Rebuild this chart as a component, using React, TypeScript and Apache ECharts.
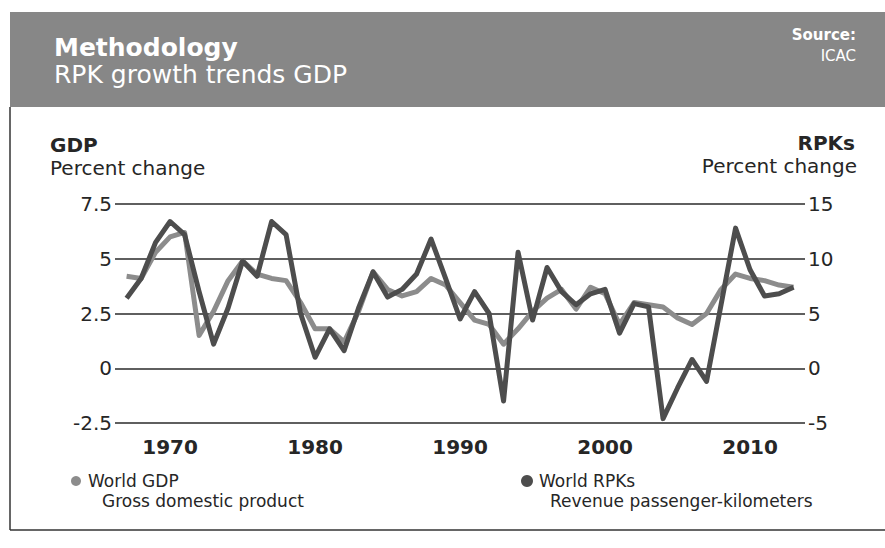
import React, { useEffect, useRef } from "react";
import * as echarts from "echarts";

const years = [
  1967, 1968, 1969, 1970, 1971, 1972, 1973, 1974, 1975, 1976, 1977, 1978,
  1979, 1980, 1981, 1982, 1983, 1984, 1985, 1986, 1987, 1988, 1989, 1990,
  1991, 1992, 1993, 1994, 1995, 1996, 1997, 1998, 1999, 2000, 2001, 2002,
  2003, 2004, 2005, 2006, 2007, 2008, 2009, 2010, 2011, 2012, 2013,
];

// World GDP, percent change (left axis)
const gdp = [
  4.2, 4.1, 5.3, 6.0, 6.2, 1.5, 2.6, 4.0, 4.9, 4.3, 4.1, 4.0,
  3.0, 1.8, 1.8, 1.2, 2.6, 4.4, 3.6, 3.3, 3.5, 4.1, 3.8, 3.0,
  2.2, 2.0, 1.1, 1.8, 2.6, 3.2, 3.6, 2.7, 3.7, 3.4, 2.0, 3.0,
  2.9, 2.8, 2.3, 2.0, 2.5, 3.6, 4.3, 4.1, 4.0, 3.8, 3.7,
];

// World RPKs, percent change (right axis)
const rpk = [
  6.4, 8.2, 11.5, 13.4, 12.2, 7.0, 2.2, 5.5, 9.8, 8.4, 13.4, 12.2,
  5.0, 1.0, 3.6, 1.6, 5.5, 8.8, 6.5, 7.2, 8.6, 11.8, 8.2, 4.5,
  7.0, 5.0, -3.0, 10.6, 4.4, 9.2, 7.0, 5.8, 6.8, 7.2, 3.2, 5.9,
  5.6, -4.6, -1.8, 0.8, -1.2, 5.8, 12.8, 9.0, 6.6, 6.8, 7.4,
];

const yearTicks = [1970, 1980, 1990, 2000, 2010];
const gdpTicks = [-2.5, 0, 2.5, 5, 7.5];
const rpkTicks = [-5, 0, 5, 10, 15];

const FONT = "'DejaVu Sans', sans-serif";
const TEXT = "#262626";

export default function App() {
  const ref = useRef<HTMLDivElement>(null);

  useEffect(() => {
    if (!ref.current) return;
    const chart = echarts.init(ref.current, null, { renderer: "svg" });

    const fmt = (v: number) => String(v);

    chart.setOption({
      animation: false,
      backgroundColor: "#ffffff",
      grid: { left: 115, right: 80, top: 204, bottom: 125 },
      xAxis: {
        type: "value",
        min: 1966.2,
        max: 2013.79,
        axisLine: { show: false },
        axisTick: { show: false },
        splitLine: { show: false },
        axisLabel: {
          customValues: yearTicks,
          margin: 14,
          color: TEXT,
          fontFamily: FONT,
          fontWeight: "bold",
          fontSize: 20,
          formatter: fmt,
        },
      },
      yAxis: [
        {
          type: "value",
          position: "left",
          min: gdpTicks[0],
          max: gdpTicks[gdpTicks.length - 1],
          interval: 2.5,
          axisLine: { show: false },
          axisTick: { show: false },
          splitLine: { show: true, lineStyle: { color: "#2a2a2a", width: 1.6 } },
          axisLabel: {
            margin: 3,
            color: TEXT,
            fontFamily: FONT,
            fontSize: 20,
            formatter: fmt,
          },
        },
        {
          type: "value",
          position: "right",
          min: rpkTicks[0],
          max: rpkTicks[rpkTicks.length - 1],
          interval: 5,
          axisLine: { show: false },
          axisTick: { show: false },
          splitLine: { show: false },
          axisLabel: {
            margin: 3,
            color: TEXT,
            fontFamily: FONT,
            fontSize: 20,
            formatter: fmt,
          },
        },
      ],
      series: [
        {
          name: "World GDP",
          type: "line",
          yAxisIndex: 0,
          data: years.map((y, i) => [y, gdp[i]]),
          showSymbol: false,
          lineStyle: { color: "#8c8c8c", width: 5, join: "round" },
          z: 3,
        },
        {
          name: "World RPKs",
          type: "line",
          yAxisIndex: 1,
          data: years.map((y, i) => [y, rpk[i]]),
          showSymbol: false,
          lineStyle: { color: "#4d4d4d", width: 5, join: "round" },
          z: 4,
        },
      ],
      graphic: [
        {
          type: "rect",
          shape: { x: 10, y: 12, width: 875, height: 95 },
          style: { fill: "#878787" },
          silent: true,
        },
        {
          type: "text",
          x: 54,
          y: 47,
          style: {
            text: "Methodology",
            fill: "#ffffff",
            font: `bold 25px ${FONT}`,
            textVerticalAlign: "middle",
          },
        },
        {
          type: "text",
          x: 54,
          y: 74,
          style: {
            text: "RPK growth trends GDP",
            fill: "#ffffff",
            font: `25px ${FONT}`,
            textVerticalAlign: "middle",
          },
        },
        {
          type: "text",
          x: 856,
          y: 35,
          style: {
            text: "Source:",
            fill: "#ffffff",
            font: `bold 15px ${FONT}`,
            textAlign: "right",
            textVerticalAlign: "middle",
          },
        },
        {
          type: "text",
          x: 856,
          y: 56,
          style: {
            text: "ICAC",
            fill: "#ffffff",
            font: `15px ${FONT}`,
            textAlign: "right",
            textVerticalAlign: "middle",
          },
        },
        {
          type: "line",
          shape: { x1: 10, y1: 107, x2: 10, y2: 530 },
          style: { stroke: "#333333", lineWidth: 1.5 },
        },
        {
          type: "line",
          shape: { x1: 10, y1: 530, x2: 885, y2: 530 },
          style: { stroke: "#333333", lineWidth: 1.5 },
        },
        {
          type: "text",
          x: 50,
          y: 145,
          style: {
            text: "GDP",
            fill: TEXT,
            font: `bold 20px ${FONT}`,
            textVerticalAlign: "middle",
          },
        },
        {
          type: "text",
          x: 50,
          y: 168,
          style: {
            text: "Percent change",
            fill: TEXT,
            font: `20px ${FONT}`,
            textVerticalAlign: "middle",
          },
        },
        {
          type: "text",
          x: 855,
          y: 143,
          style: {
            text: "RPKs",
            fill: TEXT,
            font: `bold 20px ${FONT}`,
            textAlign: "right",
            textVerticalAlign: "middle",
          },
        },
        {
          type: "text",
          x: 857,
          y: 166,
          style: {
            text: "Percent change",
            fill: TEXT,
            font: `20px ${FONT}`,
            textAlign: "right",
            textVerticalAlign: "middle",
          },
        },
        {
          type: "circle",
          shape: { cx: 76, cy: 481, r: 5 },
          style: { fill: "#8c8c8c" },
        },
        {
          type: "text",
          x: 88,
          y: 481,
          style: {
            text: "World GDP",
            fill: TEXT,
            font: `17px ${FONT}`,
            textVerticalAlign: "middle",
          },
        },
        {
          type: "text",
          x: 102,
          y: 501,
          style: {
            text: "Gross domestic product",
            fill: TEXT,
            font: `17px ${FONT}`,
            textVerticalAlign: "middle",
          },
        },
        {
          type: "circle",
          shape: { cx: 527, cy: 481, r: 6 },
          style: { fill: "#4d4d4d" },
        },
        {
          type: "text",
          x: 539,
          y: 481,
          style: {
            text: "World RPKs",
            fill: TEXT,
            font: `17px ${FONT}`,
            textVerticalAlign: "middle",
          },
        },
        {
          type: "text",
          x: 550,
          y: 501,
          style: {
            text: "Revenue passenger-kilometers",
            fill: TEXT,
            font: `17px ${FONT}`,
            textVerticalAlign: "middle",
          },
        },
      ],
    });

    return () => chart.dispose();
  }, []);

  return <div ref={ref} style={{ width: 885, height: 548, position: "absolute", left: 0, top: 0 }} />;
}
